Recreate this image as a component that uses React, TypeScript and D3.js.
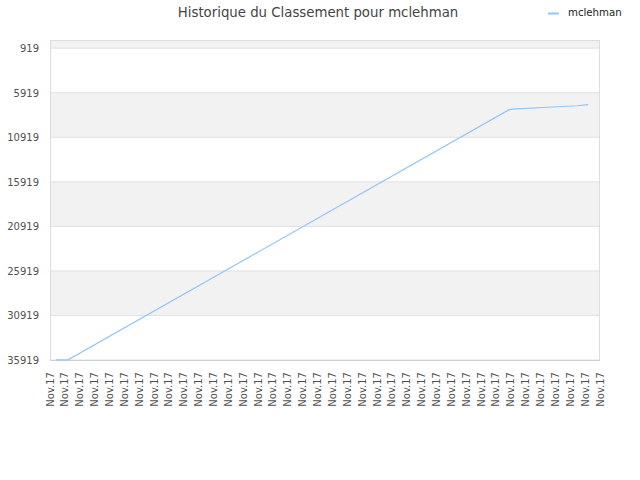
import { scaleLinear, line } from "d3";

const title = "Historique du Classement pour mclehman";
const seriesName = "mclehman";
const xLabels = Array.from({ length: 38 }, () => "Nov.17");
const yTicks = [919, 5919, 10919, 15919, 20919, 25919, 30919, 35919];
const bandStops = [0, 919, 5919, 10919, 15919, 20919, 25919, 30919, 35919];
const pointT = [0.4, 1.21, 30.89, 31.3, 31.76, 33.5, 35.46, 36.2];
const pointRank = [35900, 35900, 7824, 7740, 7700, 7550, 7380, 7263];

export default function App() {
  const width = 640;
  const height = 480;
  const left = 50;
  const right = 600;
  const top = 40;
  const bottom = 360;
  const font = "'DejaVu Sans', sans-serif";
  const x = scaleLinear().domain([0, xLabels.length - 1]).range([left, right]);
  const y = scaleLinear().domain([0, 35919]).range([top, bottom]);
  const path = line<number>()
    .x((_, i) => x(pointT[i]))
    .y((d) => y(d))(pointRank);

  return (
    <svg
      width={width}
      height={height}
      style={{ position: "absolute", left: 0, top: 0, background: "#fff" }}
      fontFamily={font}
    >
      {bandStops.slice(0, -1).map((s, i) =>
        i % 2 === 0 ? (
          <rect key={s} x={left} width={right - left} y={y(s)} height={y(bandStops[i + 1]) - y(s)} fill="#f2f2f2" />
        ) : null
      )}
      {yTicks.map((t) => (
        <line key={t} x1={left} x2={right} y1={y(t)} y2={y(t)} stroke="#e0e0e0" />
      ))}
      <rect x={left + 0.5} y={top + 0.5} width={right - left - 1} height={bottom - top} fill="none" stroke="#dddddd" />
      <line x1={left} x2={right} y1={bottom + 0.5} y2={bottom + 0.5} stroke="#d0d0d0" />
      {yTicks.map((t) => (
        <text key={t} x={39} y={y(t) + 0.5} dy="0.35em" textAnchor="end" fontSize={10} fill="#505050">
          {t}
        </text>
      ))}
      {xLabels.map((l, i) => (
        <text
          key={i}
          transform={`translate(${x(i)},372) rotate(-90)`}
          dy="0.35em"
          textAnchor="end"
          fontSize={10}
          fill="#505050"
        >
          {l}
        </text>
      ))}
      <path d={path ?? ""} fill="none" stroke="#94c6f4" strokeWidth={1.2} />
      <text x={318} y={16.5} textAnchor="middle" fontSize={13.3} fill="#444">
        {title}
      </text>
      <line x1={548} x2={559} y1={13.5} y2={13.5} stroke="#94c6f4" strokeWidth={2} />
      <text x={568} y={16} fontSize={10.2} fill="#222">
        {seriesName}
      </text>
    </svg>
  );
}
